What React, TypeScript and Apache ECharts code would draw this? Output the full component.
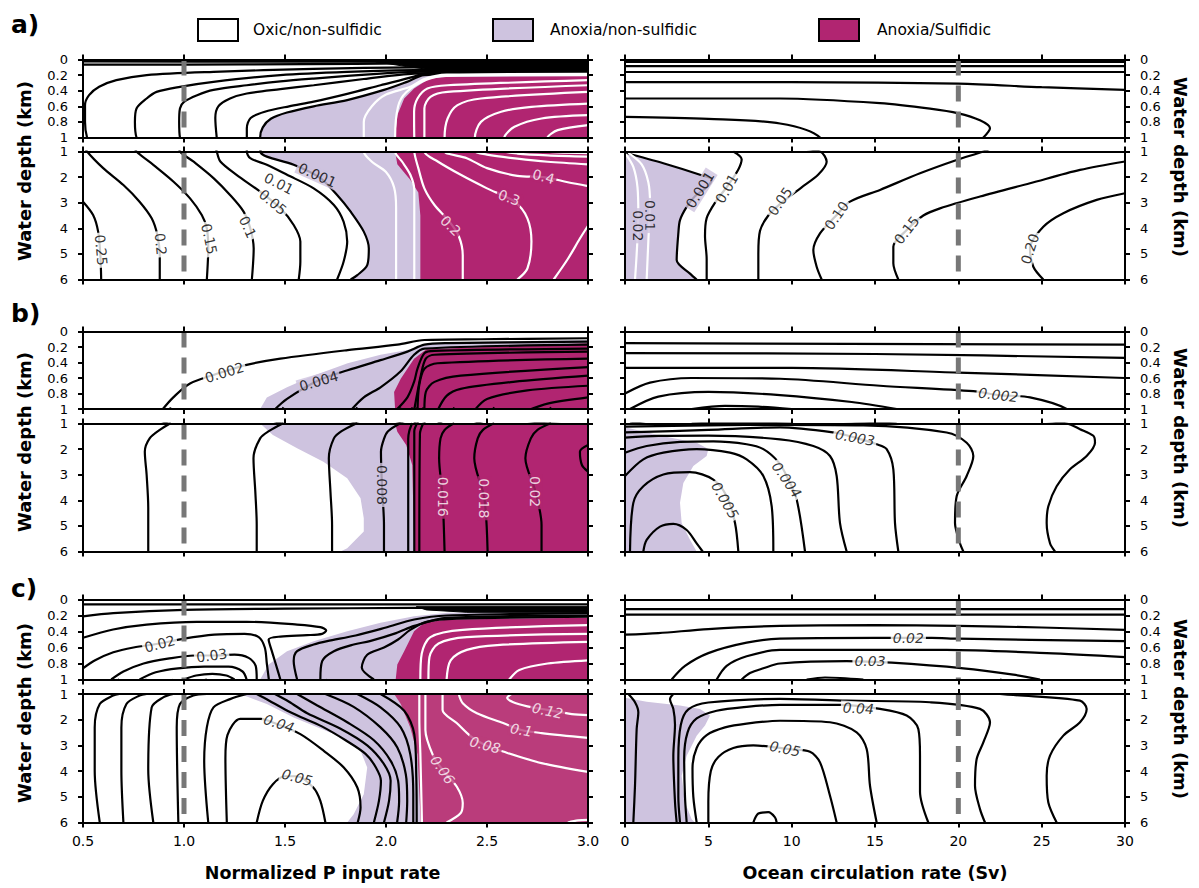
import { useEffect, useRef } from 'react';
import * as echarts from 'echarts';

const FONT = '"DejaVu Sans", "Liberation Sans", sans-serif';
const LAV = '#cec3df';
const MAG = '#b12571';
const MAGC = '#ba3c7b';
const BLACK = '#000000';
const WHITE = '#ffffff';

// ---------- tick labels / texts ----------
const depthTopTicks = ['0', '0.2', '0.4', '0.6', '0.8', '1'];
const depthBottomTicks = ['1', '2', '3', '4', '5', '6'];
const pInputTicks = ['0.5', '1.0', '1.5', '2.0', '2.5', '3.0'];
const circulationTicks = ['0', '5', '10', '15', '20', '25', '30'];
const legendLabels = ['Oxic/non-sulfidic', 'Anoxia/non-sulfidic', 'Anoxia/Sulfidic'];
const panelLetters = ['a)', 'b)', 'c)'];
const xTitles = ['Normalized P input rate', 'Ocean circulation rate (Sv)'];
const yTitle = 'Water depth (km)';
const referenceX = [1.0, 20];

// ================= Panel a, left (x: normalized P, y: depth km) =================
const aL_top1 = [[0.5, 0.025], [1.5, 0.027], [2.1, 0.03], [3.0, 0.025]];
const aL_top2 = [[0.5, 0.065], [1.0, 0.065], [1.6, 0.06], [2.1, 0.05], [3.0, 0.04]];
const aL_c025 = [[0.5, 2.96], [0.55, 3.48], [0.575, 4.13], [0.586, 5.05], [0.59, 6.0]];
const aL_c020 = [[3.0, 0.09], [2.14, 0.1], [1.64, 0.12], [1.146, 0.158], [0.815, 0.2], [0.665, 0.265], [0.58, 0.35], [0.53, 0.457], [0.51, 0.585], [0.51, 0.8], [0.52, 1.0], [0.6, 1.65], [0.7, 2.31], [0.78, 2.96], [0.84, 3.61], [0.868, 4.26], [0.88, 5.05], [0.88, 6.0]];
const aL_c015 = [[3.0, 0.11], [2.14, 0.137], [1.808, 0.158], [1.477, 0.2], [1.146, 0.286], [0.98, 0.35], [0.864, 0.415], [0.815, 0.5], [0.765, 0.628], [0.757, 0.8], [0.765, 1.0], [0.848, 1.52], [0.947, 2.17], [1.03, 2.83], [1.088, 3.48], [1.113, 4.0], [1.12, 4.79], [1.113, 6.0]];
const aL_c010 = [[3.0, 0.125], [2.14, 0.158], [1.973, 0.18], [1.642, 0.244], [1.477, 0.28], [1.311, 0.33], [1.146, 0.39], [1.065, 0.457], [1.0, 0.543], [0.98, 0.628], [0.976, 0.8], [0.98, 1.0], [1.046, 1.39], [1.146, 2.04], [1.228, 2.7], [1.295, 3.35], [1.328, 4.0], [1.345, 4.79], [1.336, 6.0]];
const aL_c005 = [[3.0, 0.14], [2.14, 0.18], [1.89, 0.25], [1.642, 0.33], [1.477, 0.38], [1.311, 0.436], [1.228, 0.5], [1.17, 0.6], [1.155, 0.75], [1.162, 1.0], [1.18, 1.39], [1.26, 1.91], [1.377, 2.57], [1.477, 3.22], [1.543, 3.87], [1.576, 4.52], [1.576, 5.31], [1.568, 6.0]];
const aL_c001 = [[3.0, 0.15], [2.189, 0.18], [2.139, 0.22], [1.973, 0.33], [1.808, 0.44], [1.642, 0.54], [1.52, 0.6], [1.4, 0.67], [1.33, 0.75], [1.311, 0.88], [1.311, 1.0], [1.328, 1.26], [1.41, 1.52], [1.51, 1.91], [1.642, 2.44], [1.742, 3.09], [1.79, 3.74], [1.808, 4.52], [1.79, 5.31], [1.758, 6.0]];
const aL_c0001 = [[3.0, 0.16], [2.189, 0.2], [2.1, 0.29], [1.99, 0.39], [1.808, 0.52], [1.642, 0.6], [1.51, 0.68], [1.43, 0.76], [1.39, 0.87], [1.377, 1.0], [1.41, 1.2], [1.543, 1.52], [1.675, 2.04], [1.758, 2.7], [1.825, 3.35], [1.89, 4.13], [1.915, 4.79], [1.907, 5.44], [1.858, 5.83], [1.825, 6.0]];
const aL_w1 = [[3.0, 0.185], [2.3, 0.195], [2.19, 0.25], [2.12, 0.35], [2.0, 0.45], [1.93, 0.6], [1.89, 0.8], [1.89, 1.0], [1.93, 1.4], [2.0, 1.8], [2.04, 2.4], [2.05, 3.2], [2.05, 6.0]];
const aL_w2 = [[3.0, 0.2], [2.3, 0.21], [2.2, 0.26], [2.1, 0.42], [2.06, 0.6], [2.045, 1.0], [2.08, 1.4], [2.12, 1.9], [2.14, 2.5], [2.14, 6.0]];
const aL_w3 = [[3.0, 0.265], [2.305, 0.33], [2.205, 0.372], [2.156, 0.5], [2.139, 0.671], [2.14, 1.0], [2.16, 1.65], [2.19, 2.44], [2.24, 3.09], [2.31, 3.7], [2.36, 4.3], [2.38, 5.05], [2.38, 6.0]];
const aL_w4 = [[3.0, 0.33], [2.305, 0.415], [2.22, 0.479], [2.19, 0.628], [2.19, 1.0], [2.256, 1.39], [2.37, 1.91], [2.5, 2.44], [2.636, 2.96], [2.7, 3.61], [2.72, 4.52], [2.7, 5.57], [2.65, 6.0]];
const aL_w5 = [[3.0, 0.415], [2.47, 0.5], [2.354, 0.585], [2.305, 0.756], [2.29, 1.0], [2.4, 1.26], [2.5, 1.65], [2.65, 1.95], [2.78, 2.0], [2.9, 2.2], [3.0, 2.35]];
const aL_w6 = [[3.0, 0.565], [2.72, 0.607], [2.57, 0.67], [2.47, 0.8], [2.44, 1.0], [2.5, 1.12], [2.65, 1.28], [2.8, 1.4], [3.0, 1.5]];
const aL_w7 = [[3.0, 0.714], [2.77, 0.756], [2.636, 0.863], [2.586, 1.0], [2.65, 1.08], [2.8, 1.15], [3.0, 1.2]];
const aL_w8 = [[3.0, 0.842], [2.85, 0.906], [2.8, 1.0], [2.85, 1.04], [3.0, 1.06]];
const aL_w9 = [[2.83, 6.0], [2.9, 5.2], [2.96, 4.4], [3.0, 3.9]];
const aL_magenta = [[3.0, 0.21], [2.305, 0.222], [2.22, 0.244], [2.19, 0.286], [2.139, 0.372], [2.09, 0.5], [2.056, 0.714], [2.045, 1.0], [2.056, 1.5], [2.12, 2.1], [2.16, 2.6], [2.17, 3.5], [2.17, 6.0], [3.0, 6.0]];
const aL_band = [[1.95, 0.03], [3.0, 0.02], [3.0, 0.155], [2.5, 0.15], [2.25, 0.14], [2.1, 0.09]];
const aL_labels = [
  [0.59, 4.85, '0.25', -85, 'k'], [0.885, 4.62, '0.2', -85, 'k'], [1.125, 4.42, '0.15', -78, 'k'],
  [1.315, 3.95, '0.1', -65, 'k'], [1.44, 2.98, '0.05', -40, 'k'], [1.47, 2.25, '0.01', -27, 'k'],
  [1.66, 1.92, '0.001', -24, 'l'], [2.32, 3.9, '0.2', -45, 'm'], [2.61, 2.8, '0.3', -20, 'm'], [2.78, 1.98, '0.4', -15, 'm'],
];

// ================= Panel a, right (x: circulation Sv) =================
const aR_h1 = [[0, 0.03], [30, 0.03]];
const aR_h2 = [[0, 0.085], [30, 0.085]];
const aR_h3 = [[0, 0.16], [30, 0.16]];
const aR_h4 = [[0, 0.29], [10, 0.29], [20, 0.31], [25, 0.355], [30, 0.39]];
const aR_c010 = [[0, 0.5], [9.3, 0.5], [15.3, 0.56], [18.3, 0.63], [20, 0.69], [21.3, 0.78], [21.9, 0.88], [21.5, 1.0], [19.9, 1.33], [17.7, 1.85], [15.3, 2.5], [13.5, 2.96], [12.6, 3.55], [11.7, 4.2], [11.3, 4.85], [11.5, 5.5], [11.8, 6.0]];
const aR_c005 = [[0, 0.735], [5, 0.76], [9.3, 0.82], [11.7, 1.0], [12.1, 1.4], [11.6, 1.9], [10.6, 2.4], [9.4, 3.0], [8.6, 3.5], [8.1, 4.1], [8.0, 5.0], [8.0, 6.0]];
const aR_c015 = [[30, 1.39], [27.3, 1.72], [24.3, 2.24], [21.3, 2.76], [18.9, 3.22], [17.9, 3.5], [16.9, 4.07], [16.1, 4.72], [16.1, 5.37], [16.4, 6.0]];
const aR_c020 = [[30, 2.63], [28.3, 2.89], [26.3, 3.41], [25.1, 3.94], [24.3, 4.79], [24.5, 5.5], [25.1, 6.0]];
const aR_c001 = [[6.5, 1.0], [7.0, 1.3], [6.8, 1.7], [6.2, 2.3], [5.4, 3.0], [4.9, 3.6], [4.8, 4.3], [4.9, 5.2], [4.9, 6.0]];
const aR_c0001 = [[0, 1.05], [2.3, 1.46], [4.5, 1.91], [5.2, 2.1], [4.9, 2.4], [4.2, 2.75], [3.7, 3.16], [3.3, 3.68], [3.2, 4.2], [3.1, 5.24], [3.9, 5.77], [4.3, 6.0]];
const aR_w001 = [[0.2, 1.05], [1.0, 1.5], [1.4, 2.2], [1.5, 3.0], [1.4, 4.5], [1.3, 6.0]];
const aR_w002 = [[0.05, 1.1], [0.5, 1.6], [0.75, 2.4], [0.8, 3.5], [0.7, 5.0], [0.6, 6.0]];
const aR_labels = [
  [1.5, 3.5, '0.01', -90, 'l'], [0.8, 3.9, '0.02', -90, 'l'], [4.5, 2.5, '0.001', 58, 'l'],
  [6.1, 2.45, '0.01', 60, 'k'], [9.3, 2.95, '0.05', 55, 'k'], [12.7, 3.5, '0.10', 55, 'k'],
  [16.9, 4.07, '0.15', 52, 'k'], [24.3, 4.8, '0.20', 72, 'k'],
];

// ================= Panel b, left =================
const bL_t1 = [[3.0, 0.087], [2.47, 0.1], [2.19, 0.11], [2.056, 0.17], [1.81, 0.24], [1.477, 0.35], [1.31, 0.43], [1.195, 0.52], [1.03, 0.67], [0.947, 0.85], [0.889, 1.02]];
const bL_t2 = [[3.0, 0.13], [2.305, 0.15], [2.19, 0.17], [2.106, 0.26], [1.973, 0.37], [1.81, 0.5], [1.667, 0.63], [1.51, 0.87], [1.444, 1.02]];
const bL_t3 = [[3.0, 0.17], [2.19, 0.22], [2.139, 0.3], [2.07, 0.52], [1.973, 0.72], [1.89, 0.85], [1.825, 1.02]];
const bL_t4 = [[3.0, 0.22], [2.24, 0.25], [2.19, 0.28], [2.156, 0.48], [2.139, 0.65], [2.106, 0.85], [2.048, 1.02]];
const bL_t5 = [[3.0, 0.26], [2.24, 0.3], [2.197, 0.35], [2.172, 0.57], [2.156, 0.78], [2.139, 1.02]];
const bL_t6 = [[3.0, 0.35], [2.255, 0.41], [2.19, 0.48], [2.164, 0.7], [2.156, 1.02]];
const bL_t7 = [[3.0, 0.46], [2.37, 0.57], [2.24, 0.65], [2.197, 0.78], [2.19, 1.02]];
const bL_t8 = [[3.0, 0.57], [2.63, 0.65], [2.37, 0.74], [2.3, 0.83], [2.255, 1.02]];
const bL_t9 = [[3.0, 0.7], [2.7, 0.76], [2.5, 0.87], [2.437, 1.02]];
const bL_t10 = [[3.0, 0.85], [2.8, 0.93], [2.7, 1.02]];
const bL_b1 = [[0.935, 0.98], [0.88, 1.25], [0.83, 1.58], [0.806, 2.1], [0.815, 3.0], [0.823, 4.3], [0.823, 6.0]];
const bL_b2 = [[1.493, 0.98], [1.42, 1.3], [1.377, 1.58], [1.344, 2.36], [1.353, 3.66], [1.36, 4.96], [1.36, 6.0]];
const bL_b3 = [[1.858, 0.98], [1.78, 1.3], [1.742, 1.58], [1.717, 2.36], [1.725, 3.66], [1.733, 4.96], [1.733, 6.0]];
const bL_b4 = [[2.073, 0.98], [2.01, 1.3], [1.99, 1.6], [1.975, 2.1], [1.98, 3.4], [1.99, 4.96], [1.99, 6.0]];
const bL_b5 = [[2.13, 0.98], [2.115, 1.3], [2.11, 1.6], [2.11, 6.0]];
const bL_b6 = [[2.155, 0.98], [2.14, 1.3], [2.14, 6.0]];
const bL_b7 = [[2.185, 0.98], [2.168, 1.4], [2.165, 6.0]];
const bL_b8 = [[2.338, 0.98], [2.29, 1.25], [2.27, 1.58], [2.263, 2.36], [2.28, 3.86], [2.29, 6.0]];
const bL_b9 = [[2.536, 0.98], [2.48, 1.25], [2.454, 1.58], [2.437, 2.36], [2.487, 3.92], [2.503, 6.0]];
const bL_b10 = [[2.817, 0.98], [2.75, 1.25], [2.717, 1.58], [2.69, 2.36], [2.74, 3.66], [2.77, 4.96], [2.77, 6.0]];
const bL_b11 = [[3.0, 1.84], [2.96, 2.1], [2.97, 2.62], [3.0, 2.88]];
const bL_lavender = [[1.377, 1.0], [1.41, 0.85], [1.51, 0.72], [1.64, 0.57], [1.81, 0.41], [1.973, 0.3], [2.106, 0.24], [2.19, 0.17], [2.305, 0.14], [3.0, 0.11], [3.0, 6.0], [1.775, 6.0], [1.808, 5.87], [1.89, 5.22], [1.89, 4.7], [1.874, 3.92], [1.808, 3.14], [1.69, 2.49], [1.56, 1.97], [1.44, 1.45]];
const bL_magenta = [[3.0, 0.15], [2.2, 0.23], [2.139, 0.35], [2.073, 0.61], [2.04, 0.78], [2.045, 1.0], [2.056, 1.32], [2.1, 1.84], [2.13, 2.62], [2.14, 6.0], [3.0, 6.0]];
const bL_labels = [
  [1.2, 0.53, '0.002', 17, 'k'], [1.667, 0.64, '0.004', 16, 'l'], [1.98, 3.4, '0.008', -90, 'l'],
  [2.28, 3.86, '0.016', -90, 'm'], [2.487, 3.92, '0.018', -90, 'm'], [2.74, 3.66, '0.02', -90, 'm'],
];

// ================= Panel b, right =================
const bR_t1 = [[0, 0.15], [30, 0.17]];
const bR_t2 = [[0, 0.28], [15, 0.29], [30, 0.34]];
const bR_t3 = [[0, 0.47], [10, 0.47], [20, 0.53], [30, 0.6]];
const bR_t4 = [[0, 0.8], [1.5, 0.66], [4, 0.6], [9.3, 0.61], [15.3, 0.7], [20.9, 0.77], [22.4, 0.82], [24.3, 0.85], [26.5, 1.0], [27.3, 1.22], [28.1, 1.48], [28.2, 1.75], [27.7, 2.27], [26.7, 2.79], [25.9, 3.45], [25.4, 4.23], [25.3, 4.89], [25.5, 5.68], [25.8, 6.0]];
const bR_t5 = [[0.3, 1.0], [2, 0.84], [5, 0.78], [9.3, 0.82], [13.6, 0.91], [16.3, 1.0]];
const bR_t6 = [[4, 1.0], [6, 0.96], [8, 0.97], [10, 1.0]];
const bR_a1 = [[1.1, 6.0], [1.3, 5.55], [2.1, 5.03], [2.9, 4.92], [3.7, 5.16], [4.3, 5.68], [4.66, 6.0]];
const bR_a2 = [[0.3, 6.0], [0.5, 4.1], [1.1, 3.45], [2.3, 2.99], [3.9, 2.9], [5.3, 3.19], [6.1, 3.84], [6.6, 4.89], [6.8, 6.0]];
const bR_a3 = [[0, 3.05], [1.1, 2.4], [2.3, 2.14], [4.3, 2.0], [6.3, 2.14], [7.3, 2.4], [8.3, 3.05], [8.8, 4.23], [8.9, 6.0]];
const bR_a4 = [[0, 2.14], [1.3, 1.88], [3.3, 1.72], [5.3, 1.7], [7.3, 1.81], [8.3, 2.0], [9.2, 2.5], [9.7, 3.05], [10.3, 3.97], [10.8, 6.0]];
const bR_a5 = [[0, 1.55], [2, 1.48], [5, 1.47], [9.3, 1.62], [11.3, 1.88], [12.3, 2.27], [12.7, 3.05], [12.9, 4.89], [13.3, 6.0]];
const bR_a6 = [[0, 1.35], [5, 1.25], [9.3, 1.15], [12.5, 1.35], [13.8, 1.55], [15.1, 1.81], [15.7, 2.0], [16.1, 2.79], [16.2, 4.89], [16.4, 6.0]];
const bR_a7 = [[0, 1.12], [5, 1.07], [9.3, 1.05], [14.3, 1.07], [19.3, 1.35], [20.5, 1.75], [20.9, 2.27], [20.5, 3.05], [19.9, 3.84], [19.8, 4.89], [20.1, 5.68], [20.3, 6.0]];
const bR_lavender = [[0, 1.15], [2.3, 1.5], [4.3, 1.75], [5.0, 2.0], [4.9, 2.27], [4.1, 2.66], [3.5, 3.32], [3.3, 4.1], [3.4, 4.89], [3.9, 5.54], [4.3, 6.0], [0, 6.0]];
const bR_labels = [
  [22.4, 0.82, '0.002', -7, 'k', 1], [13.8, 1.55, '0.003', -10, 'k', 1],
  [9.7, 3.2, '0.004', -55, 'k', 1], [6.0, 4.0, '0.005', -60, 'k', 1],
];

// ================= Panel c, left =================
const cL_t1 = [[0.5, 0.06], [3.0, 0.06]];
const cL_t2 = [[0.5, 0.21], [0.65, 0.17], [1.0, 0.13], [1.5, 0.115], [2.14, 0.105], [3.0, 0.1]];
const cL_tA = [[0.5, 0.479], [0.649, 0.375], [0.815, 0.313], [1.063, 0.279], [1.311, 0.279], [1.56, 0.313], [1.675, 0.346], [1.704, 0.388], [1.684, 0.429], [1.609, 0.446], [1.477, 0.463], [1.419, 0.5], [1.435, 0.646], [1.46, 0.854], [1.477, 1.0]];
const cL_tB = [[0.5, 0.86], [0.56, 0.76], [0.65, 0.66], [0.75, 0.6], [0.88, 0.55], [1.0, 0.49], [1.15, 0.44], [1.3, 0.43], [1.37, 0.47], [1.4, 0.6], [1.41, 0.8], [1.42, 1.0]];
const cL_tC = [[0.64, 1.0], [0.7, 0.9], [0.8, 0.8], [0.92, 0.74], [1.05, 0.7], [1.14, 0.7], [1.25, 0.69], [1.32, 0.73], [1.355, 0.83], [1.36, 1.0]];
const cL_tD = [[0.78, 1.0], [0.86, 0.91], [0.97, 0.86], [1.1, 0.84], [1.22, 0.84], [1.29, 0.9], [1.31, 1.0]];
const cL_tE = [[1.0, 1.0], [1.06, 0.95], [1.14, 0.93], [1.21, 0.95], [1.25, 1.0]];
const cL_tL1 = [[1.56, 1.0], [1.543, 0.77], [1.56, 0.646], [1.642, 0.5625], [1.709, 0.52], [1.85, 0.45], [2.0, 0.35], [2.14, 0.25], [2.3, 0.2], [3.0, 0.17]];
const cL_tL2 = [[1.675, 1.0], [1.684, 0.77], [1.742, 0.646], [1.84, 0.5625], [1.92, 0.52], [2.05, 0.42], [2.14, 0.33], [2.3, 0.23], [3.0, 0.2]];
const cL_tL3 = [[1.94, 1.0], [1.88, 0.85], [1.907, 0.69], [1.99, 0.6], [2.06, 0.5], [2.12, 0.38], [2.2, 0.28], [2.35, 0.24], [3.0, 0.215]];
const cL_tw1 = [[2.17, 1.0], [2.177, 0.675], [2.22, 0.47], [2.38, 0.38], [3.0, 0.32]];
const cL_tw2 = [[2.21, 1.0], [2.215, 0.72], [2.26, 0.55], [2.4, 0.47], [3.0, 0.43]];
const cL_tw3 = [[2.3, 1.0], [2.32, 0.76], [2.4, 0.63], [2.55, 0.57], [3.0, 0.53]];
const cL_tw4 = [[2.61, 1.0], [2.66, 0.88], [2.8, 0.8], [3.0, 0.76]];
const cL_v1 = [[0.68, 1.0], [0.649, 1.06], [0.583, 1.39], [0.558, 2.3], [0.558, 4.0], [0.583, 6.0]];
const cL_v2 = [[0.815, 1.0], [0.78, 1.06], [0.715, 1.39], [0.69, 2.3], [0.69, 4.0], [0.7, 6.0]];
const cL_v3 = [[0.947, 1.0], [0.897, 1.13], [0.84, 1.52], [0.823, 3.95], [0.848, 6.0]];
const cL_v4 = [[1.113, 1.0], [1.046, 1.06], [0.98, 1.39], [0.964, 2.3], [0.972, 6.0]];
const cL_v5 = [[1.31, 1.0], [1.228, 1.2], [1.146, 1.52], [1.113, 2.3], [1.1, 3.6], [1.12, 6.0]];
const cL_c004 = [[1.212, 6.0], [1.205, 3.5], [1.215, 2.6], [1.278, 1.97], [1.38, 1.97], [1.46, 2.17], [1.576, 2.56], [1.692, 3.21], [1.791, 3.86], [1.858, 4.64], [1.874, 5.42], [1.86, 6.0]];
const cL_c005 = [[1.36, 6.0], [1.39, 5.16], [1.44, 4.51], [1.5, 4.2], [1.56, 4.2], [1.64, 4.64], [1.675, 5.16], [1.7, 6.0]];
const cL_r1 = [[1.36, 1.0], [1.42, 1.25], [1.5, 1.6], [1.58, 1.9], [1.68, 2.25], [1.8, 2.8], [1.9, 3.34], [1.95, 3.86], [1.975, 4.38], [1.965, 5.16], [1.94, 6.0]];
const cL_r2 = [[1.45, 1.0], [1.52, 1.3], [1.61, 1.75], [1.775, 2.35], [1.907, 3.0], [1.99, 3.73], [2.023, 4.38], [2.015, 5.16], [1.99, 6.0]];
const cL_r3 = [[1.56, 1.0], [1.66, 1.45], [1.808, 2.1], [1.94, 2.8], [2.023, 3.6], [2.06, 4.38], [2.065, 5.16], [2.055, 6.0]];
const cL_r4 = [[1.7, 1.0], [1.84, 1.5], [1.973, 2.3], [2.056, 3.08], [2.098, 4.12], [2.105, 5.16], [2.1, 6.0]];
const cL_r5 = [[1.858, 1.0], [1.973, 1.52], [2.073, 2.3], [2.12, 3.34], [2.135, 4.9], [2.135, 6.0]];
const cL_r6 = [[1.973, 1.0], [2.09, 1.65], [2.14, 2.56], [2.15, 4.25], [2.152, 6.0]];
const cL_bw1 = [[2.165, 1.0], [2.165, 2.0], [2.17, 3.3], [2.178, 6.0]];
const cL_c006 = [[2.195, 1.0], [2.195, 2.4], [2.235, 3.43], [2.28, 3.95], [2.35, 4.6], [2.38, 5.24], [2.37, 5.63], [2.3, 6.0]];
const cL_c008 = [[2.28, 1.0], [2.28, 1.62], [2.35, 2.13], [2.42, 2.65], [2.49, 2.98], [2.58, 3.24], [2.77, 3.69], [3.0, 4.03]];
const cL_c010 = [[2.36, 1.0], [2.38, 1.36], [2.45, 1.75], [2.58, 2.13], [2.67, 2.4], [2.77, 2.52], [3.0, 2.71]];
const cL_c012 = [[2.62, 1.0], [2.6, 1.15], [2.63, 1.32], [2.7, 1.48], [2.8, 1.62], [2.92, 1.78], [3.0, 1.82]];
const cL_bw2 = [[2.9, 6.0], [2.95, 5.92], [3.0, 5.9]];
const cL_lavender = [[3.0, 0.146], [2.305, 0.167], [2.139, 0.208], [1.973, 0.292], [1.808, 0.396], [1.642, 0.521], [1.51, 0.646], [1.419, 0.813], [1.377, 1.0], [1.278, 1.0], [1.41, 1.39], [1.543, 1.91], [1.742, 2.56], [1.874, 3.21], [1.907, 3.86], [1.89, 4.9], [1.84, 5.68], [1.808, 6.0], [3.0, 6.0]];
const cL_magentaTop = [[3.0, 0.229], [2.305, 0.25], [2.189, 0.292], [2.139, 0.396], [2.09, 0.646], [2.056, 0.813], [2.048, 1.0], [3.0, 1.0]];
const cL_magentaBottom = [[2.04, 1.0], [2.073, 1.39], [2.12, 2.3], [2.156, 3.34], [2.172, 6.0], [3.0, 6.0], [3.0, 1.0]];
const cL_band = [[2.15, 0.09], [3.0, 0.09], [3.0, 0.16], [2.4, 0.16], [2.2, 0.13]];
const cL_labels = [
  [0.88, 0.555, '0.02', 15, 'k'], [1.137, 0.7, '0.03', 8, 'k'], [1.47, 2.15, '0.04', -18, 'k', 1],
  [1.56, 4.25, '0.05', -15, 'k', 1], [2.28, 3.95, '0.06', -55, 'c', 1], [2.49, 2.98, '0.08', -15, 'c', 1],
  [2.67, 2.4, '0.1', -10, 'c', 1], [2.8, 1.65, '0.12', -12, 'c', 1],
];

// ================= Panel c, right =================
const cR_t1 = [[0, 0.12], [30, 0.12]];
const cR_t2 = [[0, 0.19], [30, 0.19]];
const cR_t3 = [[0, 0.44], [2, 0.42], [5, 0.37], [9.3, 0.33], [15, 0.32], [20, 0.33], [25, 0.35], [30, 0.38]];
const cR_t4 = [[2.8, 1.0], [3.6, 0.83], [5, 0.67], [7.3, 0.54], [9.3, 0.49], [15, 0.48], [18.4, 0.48], [20, 0.49], [30, 0.52]];
const cR_t5 = [[5.5, 1.0], [6.1, 0.83], [7.3, 0.71], [9.3, 0.63], [19.3, 0.63], [25.3, 0.67], [30, 0.72]];
const cR_t6 = [[7.0, 1.0], [7.5, 0.92], [8.3, 0.86], [9.3, 0.8], [13.3, 0.77], [16, 0.79], [20.3, 0.86], [23.3, 0.94], [24.9, 1.0]];
const cR_t7 = [[10.9, 1.0], [12, 0.975], [14.3, 1.0]];
const cR_l0 = [[0.2, 1.0], [0.6, 1.32], [0.8, 1.71], [0.7, 2.36], [0.6, 4.57], [0.5, 6.0]];
const cR_wig = [[2.9, 1.0], [2.7, 1.2], [2.9, 1.58], [3.0, 2.2], [2.9, 3.4], [3.0, 5.2], [3.1, 6.0]];
const cR_L4 = [[3.3, 6.0], [3.2, 5.0], [3.2, 3.5], [3.35, 2.2], [3.8, 1.6], [5, 1.33], [9.3, 1.19], [13.3, 1.26], [18.3, 1.32], [21.3, 1.58], [21.9, 2.1], [21.5, 2.88], [21.1, 3.53], [21.0, 4.57], [21.3, 5.48], [21.6, 6.0]];
const cR_c004 = [[3.7, 6.0], [3.6, 5.0], [3.55, 3.5], [3.75, 2.5], [4.3, 1.95], [5.5, 1.65], [7.3, 1.5], [9.3, 1.42], [12.9, 1.42], [15.3, 1.58], [16.9, 1.84], [17.6, 2.36], [17.7, 3.4], [17.7, 4.8], [18.2, 6.0]];
const cR_L2 = [[4.3, 6.0], [4.1, 5.0], [4.05, 3.9], [4.3, 3.1], [4.9, 2.6], [6, 2.3], [7.3, 2.15], [9.3, 2.04], [12.3, 2.1], [13.9, 2.49], [14.5, 3.14], [14.7, 4.57], [15.1, 6.0]];
const cR_c005 = [[5.0, 6.0], [5.0, 5.2], [5.15, 4.0], [5.6, 3.45], [6.5, 3.1], [7.7, 3.0], [9.9, 3.15], [11.1, 3.25], [11.7, 3.66], [12.3, 4.96], [12.7, 6.0]];
const cR_small = [[7.7, 6.0], [8.0, 5.65], [8.6, 5.6], [9.0, 5.8], [9.1, 6.0]];
const cR_R = [[22.5, 1.0], [23.3, 1.04], [27.3, 1.26], [27.7, 1.58], [27.3, 2.1], [26.3, 2.62], [25.5, 3.4], [25.3, 4.18], [25.4, 5.22], [25.9, 6.0]];
const cR_lavender = [[0, 1.15], [1.3, 1.3], [3.3, 1.45], [4.5, 1.58], [5.1, 1.84], [4.8, 2.23], [4.3, 2.62], [3.7, 3.4], [3.4, 4.18], [3.6, 5.22], [4.0, 5.87], [4.2, 6.0], [0, 6.0]];
const cR_labels = [
  [17.0, 0.48, '0.02', 0, 'k', 1], [14.7, 0.77, '0.03', 0, 'k', 1],
  [14.0, 1.56, '0.04', -3, 'k', 1], [9.6, 3.13, '0.05', -12, 'k', 1],
];

// ---------- panel assembly ----------
const panels = [
  {
    row: 0, col: 0,
    fills: [[[...aL_c0001, [3.0, 6.0]], LAV], [aL_magenta, MAG], [aL_band, BLACK]],
    black: [aL_top1, aL_top2, aL_c025, aL_c020, aL_c015, aL_c010, aL_c005, aL_c001, aL_c0001],
    white: [aL_w1, aL_w2, aL_w3, aL_w4, aL_w5, aL_w6, aL_w7, aL_w8, aL_w9],
    labels: aL_labels,
  },
  {
    row: 0, col: 1,
    fills: [[[[0, 1.0], ...aR_c0001, [0, 6.0]], LAV]],
    black: [aR_h1, aR_h2, aR_h3, aR_h4, aR_c010, aR_c005, aR_c015, aR_c020, aR_c001, aR_c0001],
    white: [aR_w001, aR_w002],
    labels: aR_labels,
  },
  {
    row: 1, col: 0,
    fills: [[bL_lavender, LAV], [bL_magenta, MAG]],
    black: [bL_t1, bL_t2, bL_t3, bL_t4, bL_t5, bL_t6, bL_t7, bL_t8, bL_t9, bL_t10, bL_b1, bL_b2, bL_b3, bL_b4, bL_b5, bL_b6, bL_b7, bL_b8, bL_b9, bL_b10, bL_b11],
    white: [],
    labels: bL_labels,
  },
  {
    row: 1, col: 1,
    fills: [[bR_lavender, LAV]],
    black: [bR_t1, bR_t2, bR_t3, bR_t4, bR_t5, bR_t6, bR_a1, bR_a2, bR_a3, bR_a4, bR_a5, bR_a6, bR_a7],
    white: [],
    labels: bR_labels,
  },
  {
    row: 2, col: 0,
    fills: [[cL_lavender, LAV], [cL_magentaTop, MAG], [cL_magentaBottom, MAGC], [cL_band, BLACK]],
    black: [cL_t1, cL_t2, cL_tA, cL_tB, cL_tC, cL_tD, cL_tE, cL_tL1, cL_tL2, cL_tL3, cL_v1, cL_v2, cL_v3, cL_v4, cL_v5, cL_c004, cL_c005, cL_r1, cL_r2, cL_r3, cL_r4, cL_r5, cL_r6],
    white: [cL_tw1, cL_tw2, cL_tw3, cL_tw4, cL_bw1, cL_c006, cL_c008, cL_c010, cL_c012, cL_bw2],
    labels: cL_labels,
  },
  {
    row: 2, col: 1,
    fills: [[cR_lavender, LAV]],
    black: [cR_t1, cR_t2, cR_t3, cR_t4, cR_t5, cR_t6, cR_t7, cR_l0, cR_wig, cR_L4, cR_c004, cR_L2, cR_c005, cR_small, cR_R],
    white: [],
    labels: cR_labels,
  },
];

// layout (pixel boxes of the plotting areas)
const COLS = [{ left: 83, width: 505 }, { left: 625, width: 500 }];
const ROWS = [
  [[59.5, 78], [151.5, 128]],
  [[331.5, 77.5], [423.5, 128]],
  [[599.5, 80], [694, 128.5]],
];
const ROW_CENTERS = [171, 442, 713];

function labelStyle(kind: string) {
  if (kind === 'l') return { color: '#000', backgroundColor: LAV };
  if (kind === 'm') return { color: '#fff', backgroundColor: MAG };
  if (kind === 'c') return { color: '#fff', backgroundColor: MAGC };
  return { color: '#000', backgroundColor: '#fff' };
}

function buildOption() {
  const grid: any[] = [];
  const xAxis: any[] = [];
  const yAxis: any[] = [];
  const series: any[] = [];
  const axisLine = { show: true, onZero: false, lineStyle: { color: '#000', width: 2 } };
  const axisTick = { show: true, inside: false, length: 5, lineStyle: { color: '#000', width: 2 } };
  let g = 0;
  panels.forEach((p) => {
    const isLeft = p.col === 0;
    const cb = COLS[p.col];
    [0, 1].forEach((si) => {
      const [top, height] = ROWS[p.row][si];
      grid.push({ left: cb.left, top, width: cb.width, height, show: false });
      const xmin = isLeft ? 0.5 : 0;
      const xmax = isLeft ? 3 : 30;
      const xint = isLeft ? 0.5 : 5;
      const ymin = si === 0 ? 0 : 1;
      const ymax = si === 0 ? 1 : 6;
      const yint = si === 0 ? 0.2 : 1;
      const showX = p.row === 2 && si === 1;
      const xFmt = (v: number) => (isLeft ? pInputTicks[Math.round((v - 0.5) / 0.5)] : circulationTicks[Math.round(v / 5)]);
      const yFmt = (v: number) => (si === 0 ? depthTopTicks[Math.round(v / 0.2)] : depthBottomTicks[Math.round(v - 1)]);
      const base = { gridIndex: g, type: 'value', splitLine: { show: false }, axisLine, axisTick, z: 10 };
      xAxis.push({
        ...base, position: 'bottom', min: xmin, max: xmax, interval: xint,
        axisLabel: { show: showX, margin: 11, fontSize: 14, color: '#000', fontFamily: FONT, formatter: xFmt, showMinLabel: true, showMaxLabel: true, hideOverlap: false },
        name: showX ? xTitles[p.col] : '', nameLocation: 'middle', nameGap: 41,
        nameTextStyle: {
          fontSize: 17.5, fontWeight: 'bold', color: '#000', fontFamily: FONT,
          padding: isLeft ? [0, 26, 0, 0] : [0, 0, 0, 0],
        },
      });
      xAxis.push({ ...base, position: 'top', min: xmin, max: xmax, interval: xint, axisLabel: { show: false } });
      const yLab = {
        margin: 15, fontSize: 13, lineHeight: 12, color: '#000', fontFamily: FONT, formatter: yFmt,
        showMinLabel: true, showMaxLabel: true, hideOverlap: false,
        verticalAlign: 'middle',
      };
      yAxis.push({ ...base, position: 'left', inverse: true, min: ymin, max: ymax, interval: yint, axisLabel: { ...yLab, show: isLeft } });
      yAxis.push({ ...base, position: 'right', inverse: true, min: ymin, max: ymax, interval: yint, axisLabel: { ...yLab, show: !isLeft } });

      const xi = 2 * g;
      const yi = 2 * g;
      p.fills.forEach(([pts, color]: any) => {
        series.push({
          type: 'custom', xAxisIndex: xi, yAxisIndex: yi, clip: true, silent: true, z: 1,
          data: [[pts[0][0], pts[0][1]]],
          renderItem: (_params: any, api: any) => ({
            type: 'polygon',
            shape: { points: pts.map((pt: number[]) => api.coord(pt)) },
            style: { fill: color, stroke: color === BLACK ? '#000' : 'none', lineWidth: 1 },
          }),
        });
      });
      const addLine = (pts: number[][], color: string) => {
        series.push({
          type: 'line', xAxisIndex: xi, yAxisIndex: yi, data: pts, symbol: 'none', showSymbol: false,
          smooth: 0.3, clip: true, silent: true, z: 3,
          lineStyle: { color, width: 2.2 },
        });
      };
      p.black.forEach((pts: number[][]) => addLine(pts, BLACK));
      p.white.forEach((pts: number[][]) => addLine(pts, WHITE));
      // reference (dashed) line
      series.push({
        type: 'line', xAxisIndex: xi, yAxisIndex: yi, symbol: 'none', silent: true, z: 4, clip: true,
        data: [[referenceX[p.col], ymin], [referenceX[p.col], ymax]],
        lineStyle: { color: '#777777', width: 5, type: [16, 10] },
      });
      const labs = p.labels.filter((l: any) => (si === 0 ? l[1] <= 1 : l[1] > 1));
      if (labs.length) {
        series.push({
          type: 'scatter', xAxisIndex: xi, yAxisIndex: yi, symbolSize: 1, silent: true, z: 6, clip: false,
          itemStyle: { color: 'rgba(0,0,0,0)' },
          labelLayout: { hideOverlap: false },
          label: { show: true, position: 'inside', fontSize: 14, fontFamily: FONT, padding: [0, 2] },
          data: labs.map((l: any) => ({
            value: [l[0], l[1]],
            label: { formatter: l[2], rotate: l[3], fontStyle: l[5] ? 'italic' : 'normal', ...labelStyle(l[4]) },
          })),
        });
      }
      g++;
    });
  });

  const graphic: any[] = [];
  const legendBoxes = [
    { x: 198, fill: '#ffffff', tx: 253 },
    { x: 493, fill: LAV, tx: 550 },
    { x: 819, fill: MAG, tx: 877 },
  ];
  legendBoxes.forEach((b, i) => {
    graphic.push({ type: 'rect', shape: { x: b.x, y: 19, width: 40, height: 22 }, style: { fill: b.fill, stroke: '#000', lineWidth: 2 } });
    graphic.push({ type: 'text', x: b.tx, y: 30, style: { text: legendLabels[i], font: `15.5px ${FONT}`, fill: '#000', align: 'left', verticalAlign: 'middle', textAlign: 'left', textVerticalAlign: 'middle' } });
  });
  const letterY = [24, 313, 588];
  panelLetters.forEach((t, i) => {
    graphic.push({ type: 'text', x: 11, y: letterY[i], style: { text: t, font: `bold 25px ${FONT}`, fill: '#000', align: 'left', verticalAlign: 'middle', textAlign: 'left', textVerticalAlign: 'middle' } });
  });
  ROW_CENTERS.forEach((cy) => {
    graphic.push({ type: 'text', x: 24, y: cy, rotation: Math.PI / 2, style: { text: yTitle, font: `bold 18px ${FONT}`, fill: '#000', align: 'center', verticalAlign: 'middle', textAlign: 'center', textVerticalAlign: 'middle' } });
    graphic.push({ type: 'text', x: 1180, y: cy - 4, rotation: -Math.PI / 2, style: { text: yTitle, font: `bold 18px ${FONT}`, fill: '#000', align: 'center', verticalAlign: 'middle', textAlign: 'center', textVerticalAlign: 'middle' } });
  });

  return { animation: false, backgroundColor: '#ffffff', grid, xAxis, yAxis, series, graphic };
}

export default function App() {
  const ref = useRef<HTMLDivElement>(null);
  useEffect(() => {
    const chart = echarts.init(ref.current as HTMLDivElement, null, { renderer: 'svg' });
    chart.setOption(buildOption() as any);
    return () => chart.dispose();
  }, []);
  return <div ref={ref} style={{ position: 'fixed', left: 0, top: 0, width: 1199, height: 888, background: '#fff' }} />;
}
